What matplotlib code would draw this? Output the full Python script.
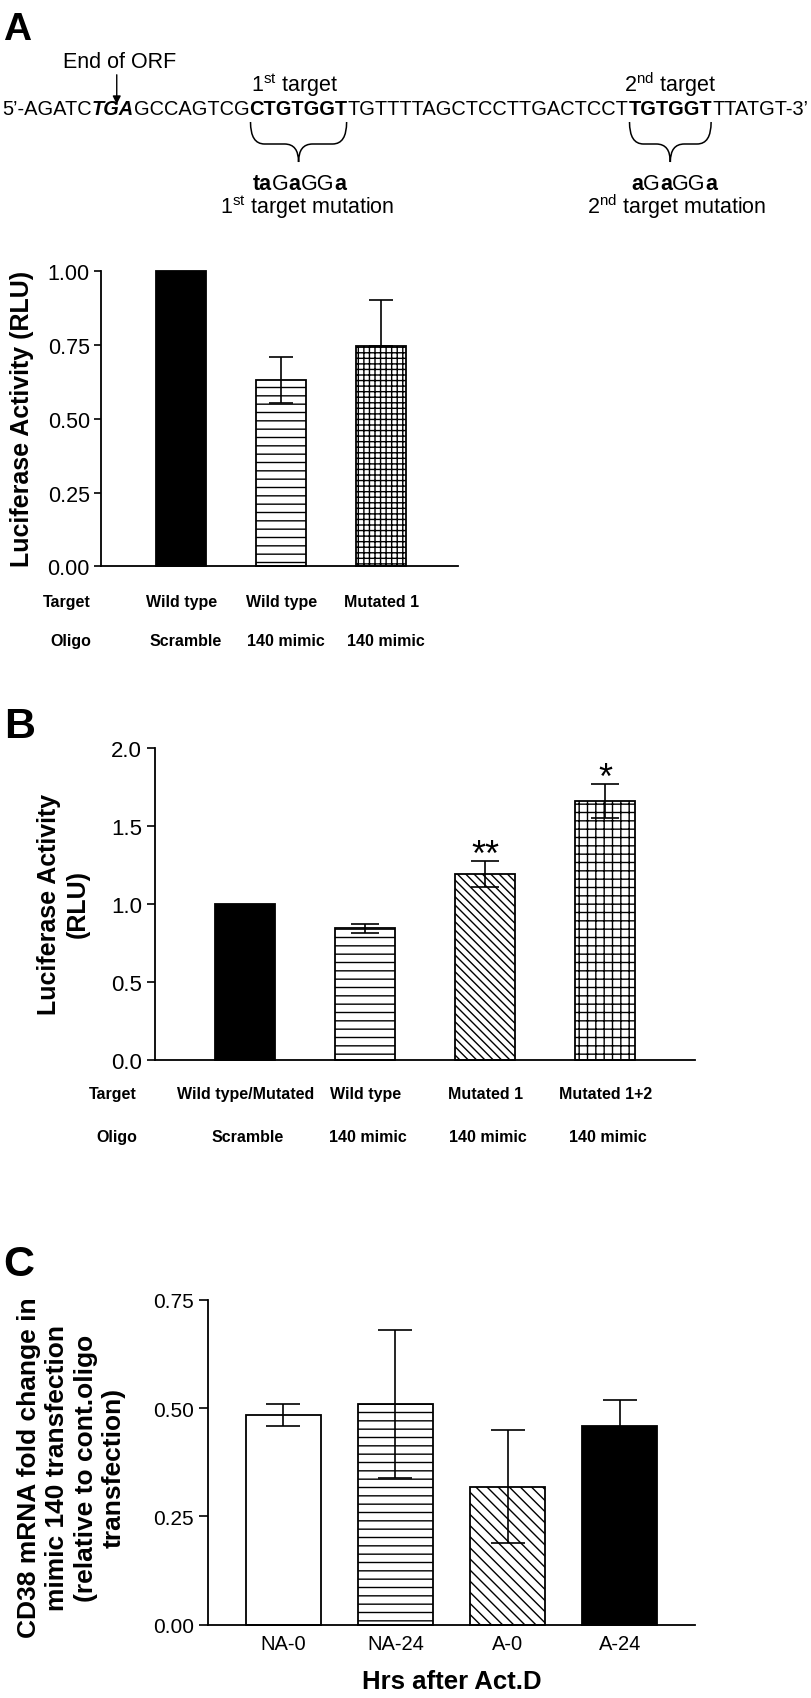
import matplotlib
matplotlib.use('Agg')
import matplotlib.pyplot as plt
from matplotlib.transforms import IdentityTransform, blended_transform_factory
from matplotlib.patches import FancyArrowPatch, PathPatch
from matplotlib.path import Path

plt.rcParams['font.family'] = ['Liberation Sans', 'DejaVu Sans']
plt.rcParams['mathtext.fontset'] = 'custom'
plt.rcParams['mathtext.rm'] = 'Liberation Sans'
plt.rcParams['mathtext.it'] = 'Liberation Sans:italic'
plt.rcParams['mathtext.bf'] = 'Liberation Sans:bold'
plt.rcParams['hatch.linewidth'] = 1.0

# ---------------- data ----------------
seq_runs = [("5\u2019-AGATC", "normal", "normal"), ("TGA", "bold", "italic"),
            ("GCCAGTCG", "normal", "normal"), ("CTGTGGT", "bold", "normal"),
            ("TGTTTTAGCTCCTTGACTCCT", "normal", "normal"), ("TGTGGT", "bold", "normal"),
            ("TTATGT-3\u2019", "normal", "normal")]
mut1_runs = [("ta", "bold"), ("G", "normal"), ("a", "bold"), ("GG", "normal"), ("a", "bold")]
mut2_runs = [("a", "bold"), ("G", "normal"), ("a", "bold"), ("GG", "normal"), ("a", "bold")]

a_targets = ["Wild type", "Wild type", "Mutated 1"]
a_oligos = ["Scramble", "140 mimic", "140 mimic"]
a_values = [1.00, 0.632, 0.748]
a_err_lo = [0.0, 0.079, 0.0]
a_err_up = [0.0, 0.078, 0.155]
a_yticks = [0.0, 0.25, 0.50, 0.75, 1.00]
a_yticklabels = ["0.00", "0.25", "0.50", "0.75", "1.00"]

b_targets = ["Wild type/Mutated", "Wild type", "Mutated 1", "Mutated 1+2"]
b_oligos = ["Scramble", "140 mimic", "140 mimic", "140 mimic"]
b_values = [1.00, 0.843, 1.193, 1.660]
b_err = [0.0, 0.030, 0.085, 0.110]
b_stars = ["", "", "**", "*"]
b_yticks = [0.0, 0.5, 1.0, 1.5, 2.0]
b_yticklabels = ["0.0", "0.5", "1.0", "1.5", "2.0"]

c_categories = ["NA-0", "NA-24", "A-0", "A-24"]
c_values = [0.484, 0.510, 0.319, 0.460]
c_err = [0.025, 0.170, 0.130, 0.060]
c_yticks = [0.0, 0.25, 0.50, 0.75]
c_yticklabels = ["0.00", "0.25", "0.50", "0.75"]

# ---------------- figure ----------------
W, H, DPI = 812, 1699, 100
fig = plt.figure(figsize=(W / DPI, H / DPI), dpi=DPI)
fig.patch.set_facecolor('white')
renderer = fig.canvas.get_renderer()
ID = IdentityTransform()


def py(y):
    return H - y


def place_runs(runs, x, ybase, fs, center=False):
    texts = []
    cur = 0.0
    for r in runs:
        s, w = r[0], r[1]
        st = r[2] if len(r) > 2 else "normal"
        t = fig.text(0, py(ybase), s, transform=ID, fontsize=fs, fontweight=w,
                     fontstyle=st, ha='left', va='baseline')
        texts.append(t)
    extents = []
    for t in texts:
        t.set_x(cur)
        bb = t.get_window_extent(renderer)
        extents.append((cur, cur + bb.width))
        cur += bb.width
    total = cur
    x0 = x - total / 2 if center else x
    out = []
    for t, (a, b) in zip(texts, extents):
        t.set_x(x0 + a)
        out.append((x0 + a, x0 + b))
    return texts, out, total


# sequence, fitted to width
trial_fs = 15
texts, ext, total = place_runs(seq_runs, 2, 115, trial_fs)
for t in texts:
    t.remove()
seq_fs = trial_fs * 803 / total
texts, ext, total = place_runs(seq_runs, 2, 115, seq_fs)

lab_fs = 15.5
# End of ORF + arrow
tga_c = (ext[1][0] + ext[1][1]) / 2 + 4
fig.text(120, py(68), "End of ORF", transform=ID, fontsize=lab_fs, ha='center', va='baseline')
arr = FancyArrowPatch((tga_c, py(73)), (tga_c, py(108)), transform=ID,
                      arrowstyle='-|>', mutation_scale=12, lw=1.0, color='black')
fig.add_artist(arr)


def brace(x0, x1, yt=123, ym=145, yb=163, r=14):
    xc = (x0 + x1) / 2
    verts = [(x0, py(yt)), (x0, py(ym)), (x0 + r, py(ym)),
             (xc - r, py(ym)), (xc, py(ym)), (xc, py(yb)),
             (xc, py(ym)), (xc + r, py(ym)),
             (x1 - r, py(ym)), (x1, py(ym)), (x1, py(yt))]
    codes = [Path.MOVETO, Path.CURVE3, Path.CURVE3,
             Path.LINETO, Path.CURVE3, Path.CURVE3,
             Path.CURVE3, Path.CURVE3,
             Path.LINETO, Path.CURVE3, Path.CURVE3]
    p = PathPatch(Path(verts, codes), transform=ID, fill=False, lw=1.1, edgecolor='black')
    fig.add_artist(p)
    return xc


c1 = brace(ext[3][0] + 1, ext[3][1] - 1)
c2 = brace(ext[5][0] + 1, ext[5][1] - 1)

fig.text(c1 - 4, py(92), r"1$^{\mathrm{st}}$ target", transform=ID, fontsize=lab_fs, ha='center', va='baseline')
fig.text(c2, py(92), r"2$^{\mathrm{nd}}$ target", transform=ID, fontsize=lab_fs, ha='center', va='baseline')
place_runs(mut1_runs, c1 + 1, 190, lab_fs, center=True)
place_runs(mut2_runs, c2 + 4, 190, lab_fs, center=True)
fig.text(c1 + 9, py(214), r"1$^{\mathrm{st}}$ target mutation", transform=ID, fontsize=lab_fs, ha='center', va='baseline')
fig.text(c2 + 6, py(214), r"2$^{\mathrm{nd}}$ target mutation", transform=ID, fontsize=lab_fs, ha='center', va='baseline')

# panel letters
fig.text(3, py(40), "A", transform=ID, fontsize=28, fontweight='bold', ha='left', va='baseline')
fig.text(4, py(738), "B", transform=ID, fontsize=31, fontweight='bold', ha='left', va='baseline')
fig.text(3, py(1276), "C", transform=ID, fontsize=31, fontweight='bold', ha='left', va='baseline')


def style_axes(ax, lw=1.3):
    for s in ['top', 'right']:
        ax.spines[s].set_visible(False)
    for s in ['left', 'bottom']:
        ax.spines[s].set_linewidth(lw)


def draw_bars(ax, x, vals, width, colors, hatches, lo, up, capsize):
    bars = ax.bar(x, vals, width=width, color=colors, edgecolor='black', linewidth=1.3,
                  zorder=2, clip_on=False)
    for b, h in zip(bars, hatches):
        if h:
            b.set_hatch(h)
    for xi, v, l, u in zip(x, vals, lo, up):
        if l == 0 and u == 0:
            continue
        ax.errorbar([xi], [v], yerr=[[l], [u]], fmt='none', ecolor='black', elinewidth=1.2,
                    capsize=capsize, capthick=1.2, zorder=3, clip_on=False)


# ---------------- panel A ----------------
axA = fig.add_axes([101 / W, 1 - 567.3 / H, 357 / W, 295 / H])
xa = list(range(len(a_values)))
draw_bars(axA, xa, a_values, 0.5, ['black', 'white', 'white'], [None, '--', '+++'],
          a_err_lo, a_err_up, 8.3)
axA.set_xlim(-0.805, 2.765)
axA.set_ylim(0, 1.0)
axA.set_yticks(a_yticks)
axA.set_yticklabels(a_yticklabels)
axA.set_xticks([])
axA.tick_params(axis='y', direction='out', length=5, width=1.2, labelsize=15.5, pad=3)
style_axes(axA)
fig.text(22, py(419), "Luciferase Activity (RLU)", transform=ID, rotation=90, fontsize=18,
         fontweight='bold', ha='center', va='center')
trA = blended_transform_factory(axA.transData, ID)
fig.text(91, py(603), "Target", transform=ID, fontsize=11.5, fontweight='bold', ha='right', va='center')
fig.text(91, py(642), "Oligo", transform=ID, fontsize=11.5, fontweight='bold', ha='right', va='center')
for xi, t, o in zip(xa, a_targets, a_oligos):
    axA.text(xi, py(603), t, transform=trA, fontsize=11.5, fontweight='bold', ha='center', va='center')
    axA.text(xi + 0.04, py(642), o, transform=trA, fontsize=11.5, fontweight='bold', ha='center', va='center')

# ---------------- panel B ----------------
axB = fig.add_axes([155.3 / W, 1 - 1060.7 / H, (695 - 155.3) / W, (1060.7 - 749) / H])
xb = list(range(len(b_values)))
draw_bars(axB, xb, b_values, 0.5, ['black', 'white', 'white', 'white'],
          [None, '--', '\\\\\\\\', '++'], b_err, b_err, 10.4)
axB.set_xlim(-0.75, 3.7475)
axB.set_ylim(0, 2.0)
axB.set_yticks(b_yticks)
axB.set_yticklabels(b_yticklabels)
axB.set_xticks([])
axB.tick_params(axis='y', direction='out', length=6, width=1.2, labelsize=16, pad=3.5)
style_axes(axB)
for xi, v, e, s in zip(xb, b_values, b_err, b_stars):
    if s:
        axB.annotate(s, xy=(xi, v + e), xytext=(0, -3), textcoords='offset points',
                     ha='center', va='baseline', fontsize=26)
fig.text(63.5, py(904), "Luciferase Activity\n(RLU)", transform=ID, rotation=90, fontsize=18,
         fontweight='bold', ha='center', va='center', multialignment='center', linespacing=1.28)
trB = blended_transform_factory(axB.transData, ID)
fig.text(137, py(1095), "Target", transform=ID, fontsize=11.5, fontweight='bold', ha='right', va='center')
fig.text(137, py(1138), "Oligo", transform=ID, fontsize=11.5, fontweight='bold', ha='right', va='center')
for xi, t, o in zip(xb, b_targets, b_oligos):
    axB.text(xi, py(1095), t, transform=trB, fontsize=11.5, fontweight='bold', ha='center', va='center')
    axB.text(xi + 0.02, py(1138), o, transform=trB, fontsize=11.5, fontweight='bold', ha='center', va='center')

# ---------------- panel C ----------------
axC = fig.add_axes([208.3 / W, 1 - 1625.7 / H, (695 - 208.3) / W, (1625.7 - 1301) / H])
xc = list(range(len(c_values)))
draw_bars(axC, xc, c_values, 0.668, ['white', 'white', 'white', 'black'],
          [None, '--', '\\\\\\', None], c_err, c_err, 12.5)
axC.set_xlim(-0.668, 3.67)
axC.set_ylim(0, 0.75)
axC.set_yticks(c_yticks)
axC.set_yticklabels(c_yticklabels)
axC.set_xticks(xc)
axC.set_xticklabels(c_categories)
axC.tick_params(axis='y', direction='out', length=6.5, width=1.2, labelsize=15, pad=4)
axC.tick_params(axis='x', length=0, labelsize=14.5, pad=7)
style_axes(axC)
fig.text(451.5, py(1681.7), "Hrs after Act.D", transform=ID, fontsize=18.5, fontweight='bold',
         ha='center', va='center')
fig.text(71.5, py(1468), "CD38 mRNA fold change in\nmimic 140 transfection\n(relative to cont.oligo\ntransfection)",
         transform=ID, rotation=90, fontsize=19, fontweight='bold', ha='center', va='center',
         multialignment='center', linespacing=1.22)

fig.savefig('out.png', dpi=DPI, facecolor='white')
